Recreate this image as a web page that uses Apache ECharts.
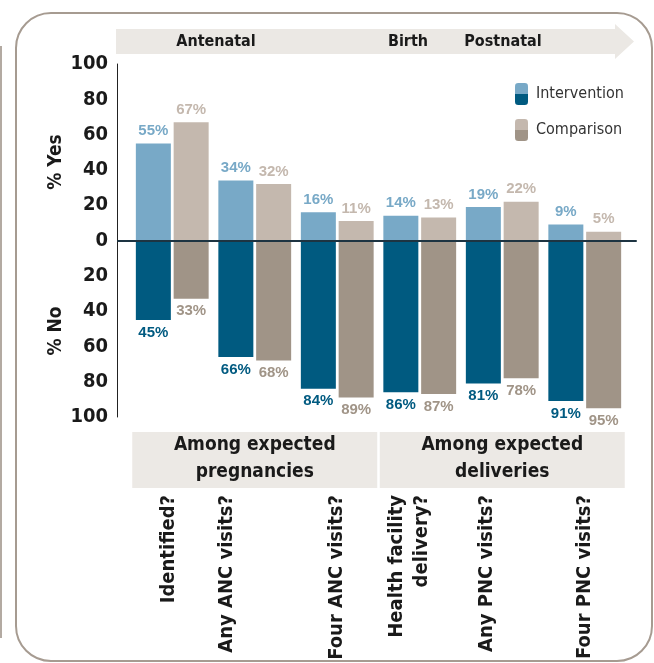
<!DOCTYPE html>
<html>
<head>
  <meta charset="utf-8">
  <title>Yes / No by stage</title>
  <script src="https://cdn.jsdelivr.net/npm/echarts@6/dist/echarts.min.js"></script>
  <style>
    html, body { margin: 0; padding: 0; background: #fff; }
  </style>
</head>
<body>
  <div id="main" style="width: 654px;height:663px;"></div>
  <script type="text/javascript">
    // data
    var categories = ['Identified?', 'Any ANC visits?', 'Four ANC visits?',
      'Health facility\ndelivery?', 'Any PNC visits?', 'Four PNC visits?'];
    var groups = ['Among expected\npregnancies', 'Among expected\ndeliveries'];
    var phases = ['Antenatal', 'Birth', 'Postnatal'];
    var interventionYes = [55, 34, 16, 14, 19, 9];
    var comparisonYes = [67, 32, 11, 13, 22, 5];
    var interventionNo = [45, 66, 84, 86, 81, 91];
    var comparisonNo = [33, 68, 89, 87, 78, 95];

    // the rotated labels are not all centred under their bars in the original;
    // how many px each one sits to the left
    var labelShift = [3, 28, 0, 10, 15, 0];

    var NARROW = "'Liberation Sans Narrow', 'DejaVu Sans Condensed', sans-serif";
    var WIDE = "'Liberation Sans', Arial, sans-serif";

    var colors = {
      intYes: '#78a9c7', intNo: '#005a80',
      cmpYes: '#c4b8ae', cmpNo: '#a09487'
    };

    var myChart = echarts.init(document.getElementById('main'));

    function split(light, dark) {
      return new echarts.graphic.LinearGradient(0, 0, 0, 1, [
        { offset: 0, color: light }, { offset: 0.5, color: light },
        { offset: 0.5, color: dark }, { offset: 1, color: dark }
      ]);
    }

    function pct(p) { return Math.abs(p.value) + '%'; }

    function barSeries(name, stack, values, color, labelColor, pos) {
      return {
        name: name,
        type: 'bar',
        stack: stack,
        barWidth: 35,
        barGap: '8%',
        data: values,
        itemStyle: { color: color },
        label: {
          show: true,
          position: pos,
          distance: 5,
          color: labelColor,
          fontFamily: WIDE,
          fontWeight: 'bold',
          fontSize: 15,
          formatter: pct
        }
      };
    }

    // one rich style per category label, bottom padding moves it left once rotated
    var catRich = {};
    labelShift.forEach(function (s, i) {
      catRich['s' + i] = {
        padding: [0, 0, s * 2, 0],
        fontFamily: NARROW,
        fontWeight: 'bold',
        fontSize: 20,
        lineHeight: 25,
        color: '#1a1a1a'
      };
    });

    var option = {
      animation: false,
      grid: [
        { left: 131, right: 28, top: 64, height: 353, outerBoundsMode: 'none' },
        { left: 118, right: 18, top: 64, height: 353, outerBoundsMode: 'none' }
      ],
      legend: {
        orient: 'vertical',
        left: 510,
        top: 78,
        itemWidth: 13,
        itemHeight: 22,
        itemGap: 14,
        selectedMode: false,
        textStyle: { fontFamily: NARROW, fontSize: 16, color: '#333', padding: [0, 0, 0, 3] },
        data: [
          { name: 'Intervention', itemStyle: { color: split(colors.intYes, colors.intNo) } },
          { name: 'Comparison', itemStyle: { color: split(colors.cmpYes, colors.cmpNo) } }
        ]
      },
      xAxis: [
        {
          type: 'category',
          gridIndex: 0,
          data: categories,
          position: 'bottom',
          axisLine: { show: false },
          axisTick: { show: false },
          axisLabel: {
            rotate: 90,
            margin: 78,
            interval: 0,
            fontFamily: NARROW,
            fontWeight: 'bold',
            fontSize: 20,
            lineHeight: 25,
            color: '#1a1a1a',
            formatter: function (value, index) {
              return value.split('\n').map(function (line) {
                return '{s' + index + '|' + line + '}';
              }).join('\n');
            },
            rich: catRich
          }
        },
        {
          type: 'category',
          gridIndex: 0,
          data: groups,
          position: 'bottom',
          axisLine: { show: false },
          axisTick: { show: false },
          axisLabel: {
            margin: 15,
            interval: 0,
            width: 245,
            height: 56,
            lineHeight: 27,
            align: 'center',
            backgroundColor: '#ece9e5',
            fontFamily: NARROW,
            fontWeight: 'bold',
            fontSize: 19,
            color: '#1a1a1a'
          }
        },
        {
          type: 'category',
          gridIndex: 1,
          data: [''],
          z: 5,
          axisLine: { onZero: true, lineStyle: { color: '#1d3442', width: 2 } },
          axisTick: { show: false },
          axisLabel: { show: false }
        }
      ],
      yAxis: [
        {
          type: 'value',
          gridIndex: 0,
          min: -100,
          max: 100,
          interval: 20,
          offset: 14,
          axisLine: { show: true, lineStyle: { color: '#222', width: 1 } },
          axisTick: { show: false },
          splitLine: { show: false },
          axisLabel: {
            margin: 9,
            fontFamily: NARROW,
            fontWeight: 'bold',
            fontSize: 20,
            color: '#1a1a1a',
            formatter: function (v) { return Math.abs(v); }
          }
        },
        {
          type: 'value',
          gridIndex: 1,
          min: -100,
          max: 100,
          show: false
        }
      ],
      series: [
        barSeries('Intervention', 'int', interventionYes, colors.intYes, colors.intYes, 'top'),
        barSeries('Comparison', 'cmp', comparisonYes, colors.cmpYes, colors.cmpYes, 'top'),
        barSeries('Intervention No', 'int', interventionNo.map(function (v) { return -v; }), colors.intNo, colors.intNo, 'bottom'),
        barSeries('Comparison No', 'cmp', comparisonNo.map(function (v) { return -v; }), colors.cmpNo, colors.cmpNo, 'bottom')
      ],
      graphic: [
        // outer rounded frame
        {
          type: 'rect', z: -10, silent: true,
          shape: { x: 16, y: 13, width: 636, height: 648, r: 35 },
          style: { fill: 'none', stroke: '#a69b91', lineWidth: 2 }
        },
        {
          type: 'line', z: -10, silent: true,
          shape: { x1: 1, y1: 46, x2: 1, y2: 638 },
          style: { stroke: '#b3aaa2', lineWidth: 2 }
        },
        // stage arrow
        {
          type: 'polygon', z: -5, silent: true,
          shape: { points: [[116, 29], [615, 29], [615, 24], [634, 41.5], [615, 59], [615, 54], [116, 54]] },
          style: { fill: '#ebe8e4' }
        },
        {
          type: 'text', x: 216, y: 42, silent: true,
          style: { text: phases[0], textAlign: 'center', textVerticalAlign: 'middle',
            font: 'bold 16px ' + NARROW, fill: '#1a1a1a' }
        },
        {
          type: 'text', x: 408, y: 42, silent: true,
          style: { text: phases[1], textAlign: 'center', textVerticalAlign: 'middle',
            font: 'bold 16px ' + NARROW, fill: '#1a1a1a' }
        },
        {
          type: 'text', x: 503, y: 42, silent: true,
          style: { text: phases[2], textAlign: 'center', textVerticalAlign: 'middle',
            font: 'bold 16px ' + NARROW, fill: '#1a1a1a' }
        },
        // axis names
        {
          type: 'text', x: 56, y: 162, rotation: Math.PI / 2, silent: true,
          style: { text: '% Yes', textAlign: 'center', textVerticalAlign: 'middle',
            font: 'bold 19px ' + NARROW, fill: '#1a1a1a' }
        },
        {
          type: 'text', x: 56, y: 331, rotation: Math.PI / 2, silent: true,
          style: { text: '% No', textAlign: 'center', textVerticalAlign: 'middle',
            font: 'bold 19px ' + NARROW, fill: '#1a1a1a' }
        }
      ]
    };

    myChart.setOption(option);
  </script>
</body>
</html>
